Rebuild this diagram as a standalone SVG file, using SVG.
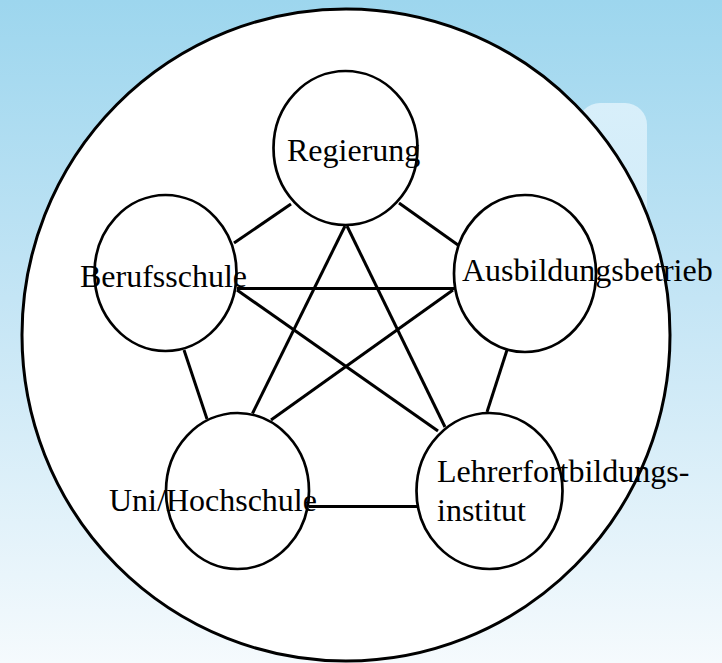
<svg xmlns="http://www.w3.org/2000/svg" width="722" height="663" viewBox="0 0 722 663">
  <defs>
    <linearGradient id="bg" x1="0" y1="0" x2="0" y2="1">
      <stop offset="0" stop-color="#9dd6ee"/>
      <stop offset="0.45" stop-color="#c4e5f5"/>
      <stop offset="1" stop-color="#f5fafd"/>
    </linearGradient>
    <linearGradient id="patch" x1="0" y1="0" x2="0" y2="1">
      <stop offset="0" stop-color="#d8effa" stop-opacity="1"/>
      <stop offset="0.7" stop-color="#d8effa" stop-opacity="0.8"/>
      <stop offset="1" stop-color="#d8effa" stop-opacity="0"/>
    </linearGradient>
    <style>
      .node { fill: #ffffff; stroke: #000000; stroke-width: 2.7; }
      .conn line { stroke: #000000; stroke-width: 3; }
      .lbl { font-family: "Liberation Serif", "Times New Roman", serif; font-size: 32px; fill: #000000; }
    </style>
  </defs>
  <rect x="0" y="0" width="722" height="663" fill="url(#bg)"/>
  <rect x="578" y="103" width="69" height="240" rx="22" fill="url(#patch)"/>
  <ellipse id="outer" cx="346" cy="335" rx="324" ry="326" fill="#ffffff" stroke="#000000" stroke-width="3"/>

  <g id="nodes-shapes">
    <ellipse class="node" cx="345.5" cy="148" rx="72" ry="77"/>
    <ellipse class="node" cx="165.5" cy="273" rx="71" ry="78"/>
    <ellipse class="node" cx="525" cy="273.5" rx="71" ry="78.5"/>
    <ellipse class="node" cx="237.5" cy="491" rx="71.5" ry="78"/>
    <ellipse class="node" cx="489.5" cy="491" rx="73" ry="78"/>
  </g>

  <g id="connectors" class="conn">
    <line x1="291" y1="204" x2="234" y2="243"/>
    <line x1="399" y1="203" x2="458" y2="245"/>
    <line x1="345" y1="226" x2="252.5" y2="413.5"/>
    <line x1="347" y1="226" x2="445" y2="427"/>
    <line x1="237" y1="288.5" x2="454" y2="288.5"/>
    <line x1="237" y1="290" x2="438" y2="431"/>
    <line x1="453" y1="290" x2="271" y2="420"/>
    <line x1="184" y1="350" x2="207" y2="419"/>
    <line x1="507" y1="350" x2="487" y2="412"/>
    <line x1="309" y1="506.5" x2="417" y2="506.5"/>
  </g>

  <g id="regierung">
    <text class="lbl" x="287" y="161">Regierung</text>
  </g>
  <g id="berufsschule">
    <text class="lbl" x="80" y="287">Berufsschule</text>
  </g>
  <g id="ausbildungsbetrieb">
    <text class="lbl" x="462" y="281">Ausbildungsbetrieb</text>
  </g>
  <g id="uni-hochschule">
    <text class="lbl" x="109" y="511">Uni/Hochschule</text>
  </g>
  <g id="lehrerfortbildungsinstitut">
    <text class="lbl" x="437" y="482">Lehrerfortbildungs-</text>
    <text class="lbl" x="437" y="521">institut</text>
  </g>
</svg>
